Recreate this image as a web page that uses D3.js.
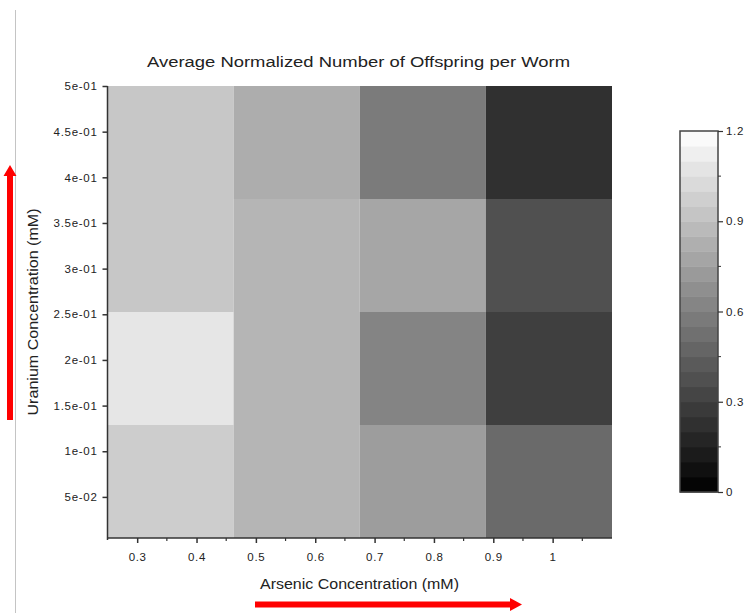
<!DOCTYPE html>
<html>
<head>
<meta charset="utf-8">
<script src="https://cdn.jsdelivr.net/npm/d3@7"></script>
<style>
	body { margin: 0; background: #fff; }
	svg { display: block; font-family: "Liberation Sans", Arial, sans-serif; }
</style>
</head>
<body>
<svg></svg>
<script>
// bin edges of the heatmap (mM)
var arsenicEdges = [0.25, 0.4625, 0.675, 0.8875, 1.1];
var uraniumEdges = [0.005, 0.12875, 0.2525, 0.37625, 0.5];

// normalized offspring, rows from lowest uranium bin to highest
var offspring = [
	[0.965, 0.852, 0.739, 0.499],
	[1.082, 0.852, 0.621, 0.296],
	[0.936, 0.852, 0.781, 0.376],
	[0.936, 0.814, 0.579, 0.226]
];

var xTicks = [0.3, 0.4, 0.5, 0.6, 0.7, 0.8, 0.9, 1];
var xMinor = [0.35, 0.45, 0.55, 0.65, 0.75, 0.85, 0.95, 1.05];
var yTicks = [0.5, 0.45, 0.4, 0.35, 0.3, 0.25, 0.2, 0.15, 0.1, 0.05];
var yTickLabels = ["5e-01", "4.5e-01", "4e-01", "3.5e-01", "3e-01", "2.5e-01", "2e-01", "1.5e-01", "1e-01", "5e-02"];
var barTicks = [0, 0.3, 0.6, 0.9, 1.2];
var barMinor = [0.15, 0.45, 0.75, 1.05];

function main() {
	var width = 747, height = 613;

	var svg = d3.select("svg")
		.attr("width", width)
		.attr("height", height);

	var xScale = d3.scaleLinear().domain([0.25, 1.1]).range([107.5, 612]);
	var yScale = d3.scaleLinear().domain([0.005, 0.5]).range([538, 86]);
	var color = d3.scaleLinear().domain([0, 1.2]).range(["#000000", "#ffffff"]);

	// thin page rule on the left
	svg.append("line")
		.attr("x1", 15.5).attr("x2", 15.5)
		.attr("y1", 10).attr("y2", height)
		.style("stroke", "#c4c4c4")
		.style("stroke-width", 1);

	// title
	svg.append("text")
		.attr("x", 358.5)
		.attr("y", 67)
		.attr("text-anchor", "middle")
		.attr("textLength", 423)
		.attr("lengthAdjust", "spacingAndGlyphs")
		.style("font-size", "15.5px")
		.style("fill", "#222")
		.text("Average Normalized Number of Offspring per Worm");

	// cells
	var cells = [];
	offspring.forEach(function (row, i) {
		row.forEach(function (v, j) {
			cells.push({ x0: arsenicEdges[j], x1: arsenicEdges[j + 1], y0: uraniumEdges[i], y1: uraniumEdges[i + 1], v: v });
		});
	});

	svg.append("g").selectAll("rect")
		.data(cells)
		.enter().append("rect")
		.attr("x", function (d) { return xScale(d.x0); })
		.attr("y", function (d) { return yScale(d.y1); })
		.attr("width", function (d) { return xScale(d.x1) - xScale(d.x0); })
		.attr("height", function (d) { return yScale(d.y0) - yScale(d.y1); })
		.attr("fill", function (d) { return color(d.v); });

	// axis-x
	var gx = svg.append("g")
		.attr("transform", "translate(0,538)")
		.call(d3.axisBottom(xScale).tickValues(xTicks).tickFormat(d3.format("")).tickSizeOuter(0).tickSize(5).tickPadding(10));
	gx.append("g").selectAll("line")
		.data(xMinor)
		.enter().append("line")
		.attr("x1", function (d) { return xScale(d); })
		.attr("x2", function (d) { return xScale(d); })
		.attr("y1", 0).attr("y2", 3)
		.style("stroke", "#333")
		.style("stroke-width", 1.2);

	// axis-y
	var gy = svg.append("g")
		.attr("transform", "translate(107.5,0)")
		.call(d3.axisLeft(yScale).tickValues(yTicks).tickFormat(function (d, i) { return yTickLabels[i]; }).tickSizeOuter(0).tickSize(5).tickPadding(5));
	gy.select(".domain").attr("d", "M0,86V540");

	[gx, gy].forEach(function (g) {
		g.select(".domain").style("stroke", "#333").style("stroke-width", 1.5);
		g.selectAll(".tick line").style("stroke", "#333").style("stroke-width", 1.5);
		g.selectAll(".tick text").style("font-size", "11.5px").style("fill", "#222")
			.style("letter-spacing", "0.7px")
			.style("font-family", "'Liberation Sans', Arial, sans-serif");
	});
	gx.select(".domain").attr("d", "M107.5,0H612");

	// axis labels
	svg.append("text")
		.attr("x", 359.5)
		.attr("y", 589)
		.attr("text-anchor", "middle")
		.attr("textLength", 199)
		.attr("lengthAdjust", "spacingAndGlyphs")
		.style("font-size", "14px")
		.style("fill", "#222")
		.text("Arsenic Concentration (mM)");

	svg.append("text")
		.attr("transform", "translate(38,312) rotate(-90)")
		.attr("text-anchor", "middle")
		.attr("textLength", 207)
		.attr("lengthAdjust", "spacingAndGlyphs")
		.style("font-size", "14px")
		.style("fill", "#222")
		.text("Uranium Concentration (mM)");

	// red arrows
	svg.append("path")
		.attr("d", "M7,420V176H3.5L10,165L16.5,176H13V420Z")
		.attr("fill", "#ff0000");
	svg.append("path")
		.attr("d", "M255,601.5H510V598L522,604.5L510,611V607.5H255Z")
		.attr("fill", "#ff0000");

	// colour bar
	var barScale = d3.scaleLinear().domain([0, 1.2]).range([492, 131]);
	var bands = d3.range(0, 1.2, 0.05);
	var bar = svg.append("g");
	bar.selectAll("rect")
		.data(bands)
		.enter().append("rect")
		.attr("x", 680)
		.attr("width", 38)
		.attr("y", function (d) { return barScale(d + 0.05); })
		.attr("height", function (d) { return barScale(d) - barScale(d + 0.05) + 0.5; })
		.attr("fill", function (d) { return color(d + 0.025); });
	bar.append("rect")
		.attr("x", 680).attr("y", 131)
		.attr("width", 38).attr("height", 361)
		.attr("fill", "none")
		.style("stroke", "#444")
		.style("stroke-width", 1.5);

	var gb = svg.append("g")
		.attr("transform", "translate(718,0)")
		.call(d3.axisRight(barScale).tickValues(barTicks).tickFormat(d3.format("")).tickSizeOuter(0).tickSize(5).tickPadding(3));
	gb.select(".domain").remove();
	gb.selectAll(".tick line").style("stroke", "#333").style("stroke-width", 1.2);
	gb.selectAll(".tick text").style("font-size", "11.5px").style("fill", "#222")
		.style("letter-spacing", "0.7px")
		.style("font-family", "'Liberation Sans', Arial, sans-serif");
	gb.append("g").selectAll("line")
		.data(barMinor)
		.enter().append("line")
		.attr("x1", 0).attr("x2", 3)
		.attr("y1", function (d) { return barScale(d); })
		.attr("y2", function (d) { return barScale(d); })
		.style("stroke", "#333");
}

main();
</script>
</body>
</html>
